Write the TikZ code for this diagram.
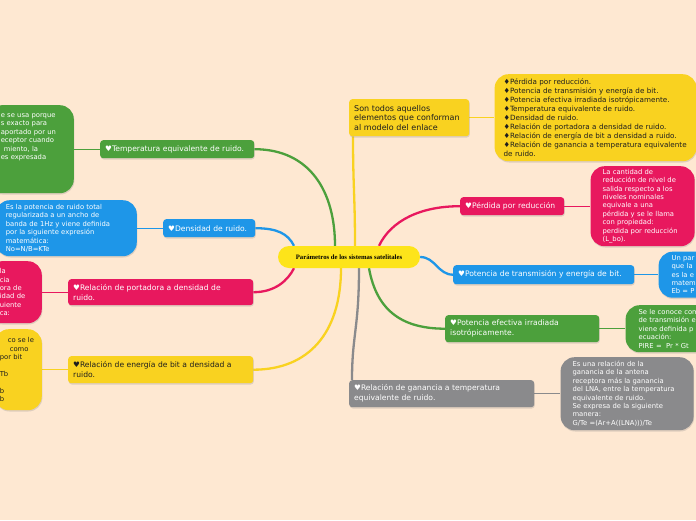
\documentclass[tikz,border=0pt]{standalone}
\usepackage{fontspec}
\setmainfont{DejaVu Sans}
\newfontfamily\titlefont{Liberation Serif}
\usetikzlibrary{positioning,shadows}

\definecolor{fondo}{RGB}{254,232,210}
\definecolor{verde}{RGB}{76,160,60}
\definecolor{azul}{RGB}{30,150,232}
\definecolor{rosa}{RGB}{232,24,94}
\definecolor{amarillo}{RGB}{249,210,32}
\definecolor{amarilloc}{RGB}{253,228,26}
\definecolor{gris}{RGB}{138,138,140}
\definecolor{tinta}{RGB}{30,30,30}

\pgfdeclarelayer{background}
\pgfsetlayers{background,main}

\tikzset{
  sombra/.style={drop shadow={shadow xshift=0.6pt,shadow yshift=-1.3pt,opacity=0.25}},
  rama/.style={rectangle,rounded corners=3pt,fill=#1,text=white,align=left,
    inner xsep=5pt,inner ysep=2pt,minimum height=18pt,
    font=\fontsize{7.6}{10}\selectfont,sombra},
  detalle/.style={rectangle,rounded corners=14pt,fill=#1,text=white,align=left,
    inner ysep=3pt,font=\fontsize{6.8}{8.4}\selectfont,sombra},
  conector/.style={draw=#1,line width=2.3pt},
  enlace/.style={draw=#1,line width=0.9pt}
}

\begin{document}
\begin{tikzpicture}[x=1pt,y=1pt,node distance=26pt]

%Background of the map
\begin{pgfonlayer}{background}
\fill[fondo] (0,0) rectangle (696,-520);
\end{pgfonlayer}
\useasboundingbox (0,0) rectangle (696,-520);

%Center of the map
\node (centro) [rectangle,rounded corners=11pt,fill=amarilloc,minimum width=142pt,minimum height=22pt,
  font=\titlefont\bfseries\fontsize{6.7}{7}\selectfont] at (349,-257) {Parámetros de los sistemas satelitales};

%Branches on the right
\node (sontodos) [rama=amarillo,text=tinta,anchor=north west,text width=110pt,minimum height=37pt,
  font=\fontsize{8}{9.6}\selectfont] at (349,-99) {Son todos aquellos\\elementos que conforman\\al modelo del enlace};
\node (perdida) [rama=rosa,anchor=north west,text width=94pt] at (460,-197) {♥Pérdida por reducción};
\node (potencia) [rama=azul,anchor=north west,text width=171pt,minimum height=19pt] at (453,-265) {♥Potencia de transmisión y energía de bit.};
\node (pire) [rama=verde,anchor=north west,text width=144pt,minimum height=27pt] at (445,-315) {♥Potencia efectiva irradiada\\isotrópicamente.};
\node (ganancia) [rama=gris,anchor=north west,text width=175pt,minimum height=27pt] at (349,-380) {♥Relación de ganancia a temperatura\\equivalente de ruido.};

%Branches on the left
\node (tempeq) [rama=verde,anchor=north west,text width=144pt] at (100,-140) {♥Temperatura equivalente de ruido.};
\node (densidad) [rama=azul,anchor=north west,text width=82pt] at (163,-219) {♥Densidad de ruido.};
\node (portadora) [rama=rosa,anchor=north west,text width=175pt,minimum height=26pt] at (68,-279) {♥Relación de portadora a densidad de\\ruido.};
\node (energia) [rama=amarillo,text=tinta,anchor=north west,text width=175pt,minimum height=27pt] at (68,-356) {♥Relación de energía de bit a densidad a\\ruido.};

%Detail boxes
\node (lista) [detalle=amarillo,text=tinta,right=25pt of sontodos,inner xsep=9pt,text width=184pt,minimum height=87pt,
  font=\fontsize{7.2}{9}\selectfont] {♦Pérdida por reducción.\\♦Potencia de transmisión y energía de bit.\\♦Potencia efectiva irradiada isotrópicamente.\\♦Temperatura equivalente de ruido.\\♦Densidad de ruido.\\♦Relación de portadora a densidad de ruido.\\♦Relación de energía de bit a densidad a ruido.\\♦Relación de ganancia a temperatura equivalente\\de ruido.};
\node (detperdida) [detalle=rosa,right=of perdida,inner xsep=12pt,text width=80pt,minimum height=80pt]
  {La cantidad de\\reducción de nivel de\\salida respecto a los\\niveles nominales\\equivale a una\\pérdida y se le llama\\con propiedad:\\perdida por reducción\\(L\_bo).};
\node (detpotencia) [detalle=azul,right=24pt of potencia,inner xsep=13pt,text width=100pt,minimum height=46pt]
  {Un par\\que la\\es la e\\matem\\Eb = P};
\node (detpire) [detalle=verde,right=of pire,inner xsep=13pt,text width=120pt,minimum height=47pt]
  {Se le conoce com\\de transmisión e\\viene definida p\\ecuación:\\PIRE =\ \ Pr * Gt};
\node (detganancia) [detalle=gris,right=of ganancia,inner xsep=12pt,text width=109pt,minimum height=73pt]
  {Es una relación de la\\ganancia de la antena\\receptora más la ganancia\\del LNA, entre la temperatura\\equivalente de ruido.\\Se expresa de la siguiente\\manera:\\G/Te =(Ar+A((LNA)))/Te};

\node (dettemp) [detalle=verde,left=of tempeq,inner xsep=13pt,text width=60pt,minimum height=88pt]
  {e se usa porque\\s exacto para\\aportado por un\\eceptor cuando\\\hspace*{3pt}miento, la\\es expresada\\\mbox{}\\\mbox{}\\\mbox{}};
\node (detdensidad) [detalle=azul,left=of densidad,inner xsep=10pt,text width=121pt,minimum height=56pt]
  {Es la potencia de ruido total\\regularizada a un ancho de\\banda de 1Hz y viene definida\\por la siguiente expresión\\matemática:\\No=N/B=KTe};
\node (detportadora) [detalle=rosa,left=of portadora,inner xsep=12pt,text width=30pt,minimum height=62pt]
  {la\\cia\\ora de\\idad de\\uiente\\ca:};
\node (detenergia) [detalle=amarillo,text=tinta,left=of energia,inner xsep=5pt,text width=37pt,minimum height=81pt]
  {\hspace*{8pt}co se le\\\hspace*{10pt}como\\por bit\\\mbox{}\\Tb\\\mbox{}\\b\\b};

%Connectors
\begin{pgfonlayer}{background}
\draw[conector=verde] ([xshift=-14pt]centro.north) .. controls +(0,55) and +(55,0) .. (tempeq.east);
\draw[conector=azul] ([xshift=-55pt]centro.north) .. controls +(-6,12) and +(22,0) .. (densidad.east);
\draw[conector=rosa] ([xshift=-55pt]centro.south) .. controls +(-6,-12) and +(22,0) .. (portadora.east);
\draw[conector=amarillo] ([xshift=-8pt]centro.south) .. controls +(0,-65) and +(55,0) .. (energia.east);
\draw[conector=amarillo] ([xshift=6pt]centro.north) .. controls +(0,50) and +(0,-50) .. ([xshift=4pt]sontodos.south west);
\draw[conector=rosa] ([xshift=30pt]centro.north) .. controls +(12,25) and +(-40,0) .. (perdida.west);
\draw[conector=azul] (centro.east) .. controls +(15,0) and +(-15,0) .. (potencia.west);
\draw[conector=verde] ([xshift=20pt]centro.south) .. controls +(8,-45) and +(-40,0) .. (pire.west);
\draw[conector=gris] ([xshift=10pt]centro.south) .. controls +(0,-60) and +(0,45) .. ([xshift=3pt]ganancia.north west);

\draw[enlace=amarillo] (sontodos.east) -- (lista.west);
\draw[enlace=rosa] (perdida.east) -- (detperdida.west);
\draw[enlace=azul] (potencia.east) -- (detpotencia.west);
\draw[enlace=verde] (pire.east) -- (detpire.west);
\draw[enlace=gris] (ganancia.east) -- (detganancia.west);
\draw[enlace=verde] (tempeq.west) -- (dettemp.east);
\draw[enlace=azul] (densidad.west) -- (detdensidad.east);
\draw[enlace=rosa] (portadora.west) -- (detportadora.east);
\draw[enlace=amarillo] (energia.west) -- (detenergia.east);
\end{pgfonlayer}

\end{tikzpicture}
\end{document}
